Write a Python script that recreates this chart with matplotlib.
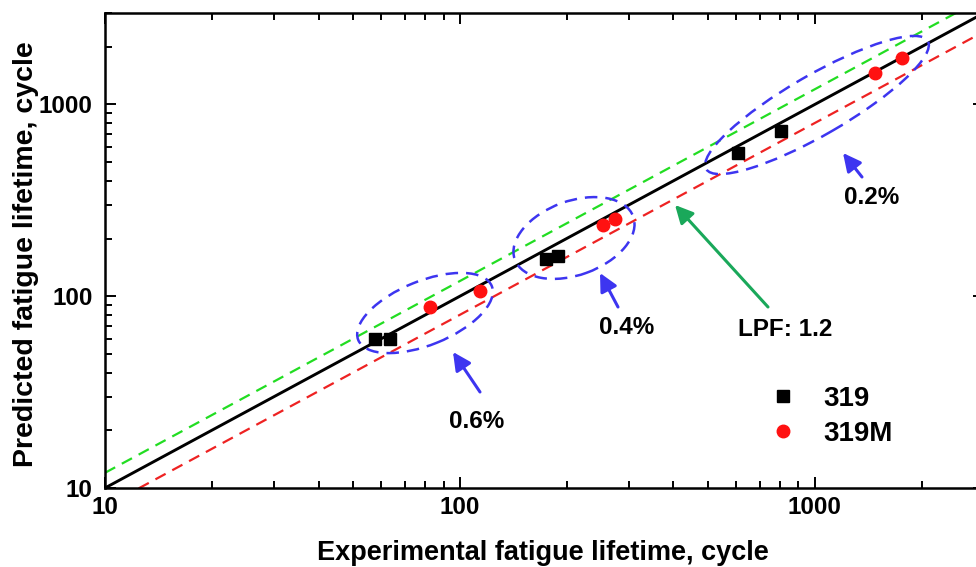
import numpy as np
import matplotlib
matplotlib.use("Agg")
import matplotlib.pyplot as plt
from matplotlib.patches import Ellipse
from matplotlib.transforms import ScaledTranslation

plt.rcParams['font.family'] = ['Liberation Sans', 'DejaVu Sans']
plt.rcParams['font.weight'] = 'bold'

# ---- data ----
exp_319 = [57.6, 63.5, 174.6, 188.8, 607, 802]
pred_319 = [59.8, 59.8, 155.6, 163, 557, 725]
exp_319M = [82.2, 113.7, 252.9, 273.5, 1476, 1758]
pred_319M = [87.7, 106, 236, 253.5, 1466, 1753]
upper_factor = 1.2
lower_factor = 0.8
line_x = [10, 3000]
xlim = (10, 3000)
ylim = (10, 3000)
strain_labels = ['0.6%', '0.4%', '0.2%']
lpf_label = 'LPF: 1.2'
series_labels = ['319', '319M']

W, H = 976, 567
fig = plt.figure(figsize=(W / 100, H / 100), dpi=100)
L, R, B, T = 105, 984, 488, 13
ax = fig.add_axes([L / W, (H - B) / H, (R - L) / W, (B - T) / H])
ax.set_xscale('log')
ax.set_yscale('log')
ax.set_xlim(*xlim)
ax.set_ylim(*ylim)

lx = np.array(line_x, dtype=float)
ax.plot(lx, lx, color='black', lw=2.1, zorder=3)
ax.plot(lx, lx * upper_factor, color='#22dd22', lw=1.6, ls=(0, (5.2, 3.4)), zorder=2)
ax.plot(lx, lx * lower_factor, color='#ee2222', lw=1.6, ls=(0, (5.2, 3.4)), zorder=2)

ax.plot(exp_319, pred_319, 's', color='black', ms=8.5, ls='none', zorder=4, label=series_labels[0])
ax.plot(exp_319M, pred_319M, 'o', color='#ff1111', ms=9, ls='none', zorder=4, label=series_labels[1])

blue = '#3d35f0'

def px2ax(px, py):
    return ((px - L) / (R - L), (B - py) / (B - T))

# ellipses (center in pixels, semi-axes in pixels, angle)
ell_specs = [((425, 313), 72, 32, 22), ((574, 238), 63, 37, 20), ((817, 105), 128, 30, 30)]
for (cx, cy), a, b, ang in ell_specs:
    ax_c = px2ax(cx, cy)
    tr = fig.dpi_scale_trans + ScaledTranslation(ax_c[0], ax_c[1], ax.transAxes)
    e = Ellipse((0, 0), 2 * a / 100, 2 * b / 100, angle=ang, transform=tr,
                fill=False, edgecolor=blue, lw=1.8, ls=(0, (5.0, 3.2)), zorder=5, clip_on=False)
    ax.add_patch(e)

# arrows + labels
arrow_specs = [((453, 352), (480, 392), (477, 421), strain_labels[0], blue),
               ((600, 273), (618, 307), (627, 327), strain_labels[1], blue),
               ((843, 153), (862, 177), (872, 198), strain_labels[2], blue),
               ((675, 205), (768, 307), (785, 329), lpf_label, '#1aa85a')]
for head, tail, txt, s, c in arrow_specs:
    ax.annotate('', xy=px2ax(*head), xycoords='axes fraction',
                xytext=px2ax(*tail), textcoords='axes fraction',
                arrowprops=dict(arrowstyle='-|>,head_length=0.6,head_width=0.3', color=c, lw=2.2,
                                shrinkA=0, shrinkB=0, mutation_scale=18), zorder=6)
    ax.text(*px2ax(*txt), s, transform=ax.transAxes, ha='center', va='center',
            fontsize=17.5, fontweight='bold')

leg = ax.legend(loc='upper left', bbox_to_anchor=(769 / W, 1 - 386 / H), bbox_transform=fig.transFigure,
                frameon=False, fontsize=20, handlelength=1.0, handletextpad=0.95,
                labelspacing=0.33, borderpad=0, borderaxespad=0, numpoints=1)
for t in leg.get_texts():
    t.set_fontweight('bold')

for sp in ax.spines.values():
    sp.set_linewidth(1.8)
ax.tick_params(which='both', direction='in', top=True, right=True, width=1.4)
ax.tick_params(which='major', length=8, labelsize=17.5, pad=6)
ax.tick_params(which='minor', length=5)
ax.tick_params(axis='y', which='major', pad=9)
ax.set_xticks([10, 100, 1000])
ax.set_xticklabels(['10', '100', '1000'])
ax.set_yticks([10, 100, 1000])
ax.set_yticklabels(['10', '100', '1000'])
for lab in ax.get_xticklabels() + ax.get_yticklabels():
    lab.set_fontweight('bold')

fig.text(543 / W, 1 - 553 / H, 'Experimental fatigue lifetime, cycle', ha='center', va='center',
         fontsize=19.5, fontweight='bold')
fig.text(26 / W, 1 - 254 / H, 'Predicted fatigue lifetime, cycle', ha='center', va='center',
         rotation=90, fontsize=20.5, fontweight='bold')

fig.savefig('out.png', dpi=100)
